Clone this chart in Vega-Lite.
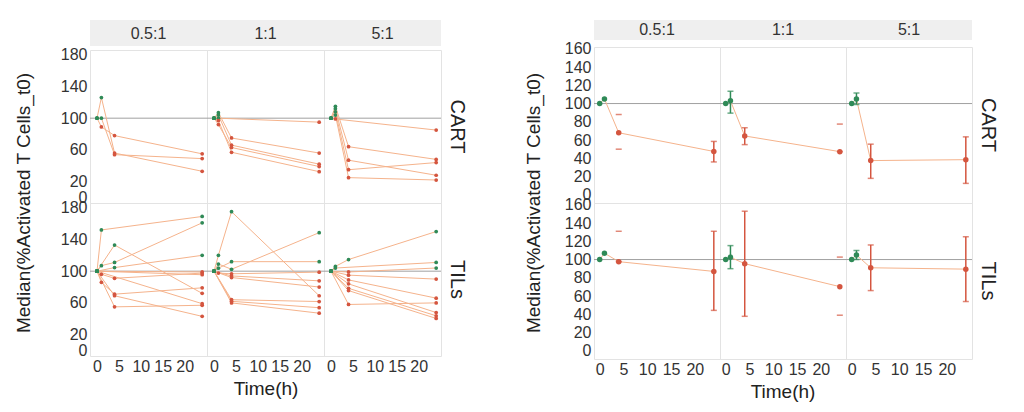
{
  "$schema": "https://vega.github.io/schema/vega-lite/v6.json",
  "padding": {"left": 14, "top": 20, "right": 5, "bottom": 5},
  "background": "white",
  "datasets": {
    "ratios": [{"ratio": "0.5:1"}, {"ratio": "1:1"}, {"ratio": "5:1"}],
    "indiv": [
      {"cell": "CART", "ratio": "0.5:1", "id": "a1", "t": 0, "v": 100, "dir": "up"},
      {"cell": "CART", "ratio": "0.5:1", "id": "a1", "t": 1, "v": 126, "dir": "up"},
      {"cell": "CART", "ratio": "0.5:1", "id": "a1", "t": 4, "v": 56, "dir": "down"},
      {"cell": "CART", "ratio": "0.5:1", "id": "a1", "t": 24, "v": 33, "dir": "down"},
      {"cell": "CART", "ratio": "0.5:1", "id": "a2", "t": 0, "v": 100, "dir": "up"},
      {"cell": "CART", "ratio": "0.5:1", "id": "a2", "t": 1, "v": 100, "dir": "up"},
      {"cell": "CART", "ratio": "0.5:1", "id": "a2", "t": 4, "v": 54, "dir": "down"},
      {"cell": "CART", "ratio": "0.5:1", "id": "a2", "t": 24, "v": 49, "dir": "down"},
      {"cell": "CART", "ratio": "0.5:1", "id": "a3", "t": 0, "v": 100, "dir": "up"},
      {"cell": "CART", "ratio": "0.5:1", "id": "a3", "t": 1, "v": 89, "dir": "down"},
      {"cell": "CART", "ratio": "0.5:1", "id": "a3", "t": 4, "v": 78, "dir": "down"},
      {"cell": "CART", "ratio": "0.5:1", "id": "a3", "t": 24, "v": 55, "dir": "down"},

      {"cell": "CART", "ratio": "1:1", "id": "b1", "t": 0, "v": 100, "dir": "up"},
      {"cell": "CART", "ratio": "1:1", "id": "b1", "t": 1, "v": 100, "dir": "up"},
      {"cell": "CART", "ratio": "1:1", "id": "b1", "t": 24, "v": 95, "dir": "down"},
      {"cell": "CART", "ratio": "1:1", "id": "b2", "t": 0, "v": 100, "dir": "up"},
      {"cell": "CART", "ratio": "1:1", "id": "b2", "t": 1, "v": 107, "dir": "up"},
      {"cell": "CART", "ratio": "1:1", "id": "b2", "t": 4, "v": 75, "dir": "down"},
      {"cell": "CART", "ratio": "1:1", "id": "b2", "t": 24, "v": 56, "dir": "down"},
      {"cell": "CART", "ratio": "1:1", "id": "b3", "t": 0, "v": 100, "dir": "up"},
      {"cell": "CART", "ratio": "1:1", "id": "b3", "t": 1, "v": 104, "dir": "up"},
      {"cell": "CART", "ratio": "1:1", "id": "b3", "t": 4, "v": 66, "dir": "down"},
      {"cell": "CART", "ratio": "1:1", "id": "b3", "t": 24, "v": 42, "dir": "down"},
      {"cell": "CART", "ratio": "1:1", "id": "b4", "t": 0, "v": 100, "dir": "up"},
      {"cell": "CART", "ratio": "1:1", "id": "b4", "t": 1, "v": 92, "dir": "down"},
      {"cell": "CART", "ratio": "1:1", "id": "b4", "t": 4, "v": 63, "dir": "down"},
      {"cell": "CART", "ratio": "1:1", "id": "b4", "t": 24, "v": 39, "dir": "down"},
      {"cell": "CART", "ratio": "1:1", "id": "b5", "t": 0, "v": 100, "dir": "up"},
      {"cell": "CART", "ratio": "1:1", "id": "b5", "t": 1, "v": 97, "dir": "down"},
      {"cell": "CART", "ratio": "1:1", "id": "b5", "t": 4, "v": 57, "dir": "down"},
      {"cell": "CART", "ratio": "1:1", "id": "b5", "t": 24, "v": 32.5, "dir": "down"},

      {"cell": "CART", "ratio": "5:1", "id": "c1", "t": 0, "v": 100, "dir": "up"},
      {"cell": "CART", "ratio": "5:1", "id": "c1", "t": 1, "v": 99, "dir": "down"},
      {"cell": "CART", "ratio": "5:1", "id": "c1", "t": 24, "v": 85, "dir": "down"},
      {"cell": "CART", "ratio": "5:1", "id": "c2", "t": 0, "v": 100, "dir": "up"},
      {"cell": "CART", "ratio": "5:1", "id": "c2", "t": 1, "v": 115, "dir": "up"},
      {"cell": "CART", "ratio": "5:1", "id": "c2", "t": 4, "v": 64, "dir": "down"},
      {"cell": "CART", "ratio": "5:1", "id": "c2", "t": 24, "v": 48, "dir": "down"},
      {"cell": "CART", "ratio": "5:1", "id": "c3", "t": 0, "v": 100, "dir": "up"},
      {"cell": "CART", "ratio": "5:1", "id": "c3", "t": 1, "v": 112, "dir": "up"},
      {"cell": "CART", "ratio": "5:1", "id": "c3", "t": 4, "v": 47, "dir": "down"},
      {"cell": "CART", "ratio": "5:1", "id": "c3", "t": 24, "v": 28, "dir": "down"},
      {"cell": "CART", "ratio": "5:1", "id": "c4", "t": 0, "v": 100, "dir": "up"},
      {"cell": "CART", "ratio": "5:1", "id": "c4", "t": 1, "v": 108, "dir": "up"},
      {"cell": "CART", "ratio": "5:1", "id": "c4", "t": 4, "v": 35, "dir": "down"},
      {"cell": "CART", "ratio": "5:1", "id": "c4", "t": 24, "v": 44, "dir": "down"},
      {"cell": "CART", "ratio": "5:1", "id": "c5", "t": 0, "v": 100, "dir": "up"},
      {"cell": "CART", "ratio": "5:1", "id": "c5", "t": 1, "v": 104, "dir": "up"},
      {"cell": "CART", "ratio": "5:1", "id": "c5", "t": 4, "v": 25, "dir": "down"},
      {"cell": "CART", "ratio": "5:1", "id": "c5", "t": 24, "v": 22, "dir": "down"},

      {"cell": "TILs", "ratio": "0.5:1", "id": "d1", "t": 0, "v": 100, "dir": "up"},
      {"cell": "TILs", "ratio": "0.5:1", "id": "d1", "t": 1, "v": 152, "dir": "up"},
      {"cell": "TILs", "ratio": "0.5:1", "id": "d1", "t": 24, "v": 169, "dir": "up"},
      {"cell": "TILs", "ratio": "0.5:1", "id": "d2", "t": 0, "v": 100, "dir": "up"},
      {"cell": "TILs", "ratio": "0.5:1", "id": "d2", "t": 1, "v": 107, "dir": "up"},
      {"cell": "TILs", "ratio": "0.5:1", "id": "d2", "t": 4, "v": 111, "dir": "up"},
      {"cell": "TILs", "ratio": "0.5:1", "id": "d2", "t": 24, "v": 161, "dir": "up"},
      {"cell": "TILs", "ratio": "0.5:1", "id": "d3", "t": 0, "v": 100, "dir": "up"},
      {"cell": "TILs", "ratio": "0.5:1", "id": "d3", "t": 4, "v": 133, "dir": "up"},
      {"cell": "TILs", "ratio": "0.5:1", "id": "d3", "t": 24, "v": 72, "dir": "down"},
      {"cell": "TILs", "ratio": "0.5:1", "id": "d4", "t": 0, "v": 100, "dir": "up"},
      {"cell": "TILs", "ratio": "0.5:1", "id": "d4", "t": 4, "v": 104.5, "dir": "up"},
      {"cell": "TILs", "ratio": "0.5:1", "id": "d4", "t": 24, "v": 120, "dir": "up"},
      {"cell": "TILs", "ratio": "0.5:1", "id": "d5", "t": 0, "v": 100, "dir": "up"},
      {"cell": "TILs", "ratio": "0.5:1", "id": "d5", "t": 1, "v": 96, "dir": "down"},
      {"cell": "TILs", "ratio": "0.5:1", "id": "d5", "t": 4, "v": 91, "dir": "down"},
      {"cell": "TILs", "ratio": "0.5:1", "id": "d5", "t": 24, "v": 97.6, "dir": "down"},
      {"cell": "TILs", "ratio": "0.5:1", "id": "d6", "t": 0, "v": 100, "dir": "up"},
      {"cell": "TILs", "ratio": "0.5:1", "id": "d6", "t": 1, "v": 86, "dir": "down"},
      {"cell": "TILs", "ratio": "0.5:1", "id": "d6", "t": 4, "v": 71, "dir": "down"},
      {"cell": "TILs", "ratio": "0.5:1", "id": "d6", "t": 24, "v": 79, "dir": "down"},
      {"cell": "TILs", "ratio": "0.5:1", "id": "d7", "t": 0, "v": 100, "dir": "up"},
      {"cell": "TILs", "ratio": "0.5:1", "id": "d7", "t": 4, "v": 69, "dir": "down"},
      {"cell": "TILs", "ratio": "0.5:1", "id": "d7", "t": 24, "v": 43, "dir": "down"},
      {"cell": "TILs", "ratio": "0.5:1", "id": "d8", "t": 0, "v": 100, "dir": "up"},
      {"cell": "TILs", "ratio": "0.5:1", "id": "d8", "t": 4, "v": 55, "dir": "down"},
      {"cell": "TILs", "ratio": "0.5:1", "id": "d8", "t": 24, "v": 57, "dir": "down"},
      {"cell": "TILs", "ratio": "0.5:1", "id": "d9", "t": 0, "v": 100, "dir": "up"},
      {"cell": "TILs", "ratio": "0.5:1", "id": "d9", "t": 24, "v": 99, "dir": "down"},
      {"cell": "TILs", "ratio": "0.5:1", "id": "d10", "t": 0, "v": 100, "dir": "up"},
      {"cell": "TILs", "ratio": "0.5:1", "id": "d10", "t": 24, "v": 95.5, "dir": "down"},
      {"cell": "TILs", "ratio": "0.5:1", "id": "d11", "t": 0, "v": 100, "dir": "up"},
      {"cell": "TILs", "ratio": "0.5:1", "id": "d11", "t": 24, "v": 59, "dir": "down"},

      {"cell": "TILs", "ratio": "1:1", "id": "e1", "t": 0, "v": 100, "dir": "up"},
      {"cell": "TILs", "ratio": "1:1", "id": "e1", "t": 1, "v": 120, "dir": "up"},
      {"cell": "TILs", "ratio": "1:1", "id": "e1", "t": 4, "v": 175, "dir": "up"},
      {"cell": "TILs", "ratio": "1:1", "id": "e1", "t": 24, "v": 69, "dir": "down"},
      {"cell": "TILs", "ratio": "1:1", "id": "e2", "t": 0, "v": 100, "dir": "up"},
      {"cell": "TILs", "ratio": "1:1", "id": "e2", "t": 1, "v": 109, "dir": "up"},
      {"cell": "TILs", "ratio": "1:1", "id": "e2", "t": 4, "v": 102.4, "dir": "up"},
      {"cell": "TILs", "ratio": "1:1", "id": "e2", "t": 24, "v": 148.6, "dir": "up"},
      {"cell": "TILs", "ratio": "1:1", "id": "e3", "t": 0, "v": 100, "dir": "up"},
      {"cell": "TILs", "ratio": "1:1", "id": "e3", "t": 1, "v": 103.7, "dir": "up"},
      {"cell": "TILs", "ratio": "1:1", "id": "e3", "t": 4, "v": 112, "dir": "up"},
      {"cell": "TILs", "ratio": "1:1", "id": "e3", "t": 24, "v": 112, "dir": "up"},
      {"cell": "TILs", "ratio": "1:1", "id": "e4", "t": 0, "v": 100, "dir": "up"},
      {"cell": "TILs", "ratio": "1:1", "id": "e4", "t": 1, "v": 97.6, "dir": "down"},
      {"cell": "TILs", "ratio": "1:1", "id": "e4", "t": 4, "v": 96.7, "dir": "down"},
      {"cell": "TILs", "ratio": "1:1", "id": "e4", "t": 24, "v": 98.8, "dir": "down"},
      {"cell": "TILs", "ratio": "1:1", "id": "e5", "t": 0, "v": 100, "dir": "up"},
      {"cell": "TILs", "ratio": "1:1", "id": "e5", "t": 4, "v": 94, "dir": "down"},
      {"cell": "TILs", "ratio": "1:1", "id": "e5", "t": 24, "v": 87.8, "dir": "down"},
      {"cell": "TILs", "ratio": "1:1", "id": "e6", "t": 0, "v": 100, "dir": "up"},
      {"cell": "TILs", "ratio": "1:1", "id": "e6", "t": 4, "v": 92, "dir": "down"},
      {"cell": "TILs", "ratio": "1:1", "id": "e6", "t": 24, "v": 80, "dir": "down"},
      {"cell": "TILs", "ratio": "1:1", "id": "e7", "t": 0, "v": 100, "dir": "up"},
      {"cell": "TILs", "ratio": "1:1", "id": "e7", "t": 4, "v": 64, "dir": "down"},
      {"cell": "TILs", "ratio": "1:1", "id": "e7", "t": 24, "v": 61.7, "dir": "down"},
      {"cell": "TILs", "ratio": "1:1", "id": "e8", "t": 0, "v": 100, "dir": "up"},
      {"cell": "TILs", "ratio": "1:1", "id": "e8", "t": 4, "v": 62, "dir": "down"},
      {"cell": "TILs", "ratio": "1:1", "id": "e8", "t": 24, "v": 53.9, "dir": "down"},
      {"cell": "TILs", "ratio": "1:1", "id": "e9", "t": 0, "v": 100, "dir": "up"},
      {"cell": "TILs", "ratio": "1:1", "id": "e9", "t": 4, "v": 60, "dir": "down"},
      {"cell": "TILs", "ratio": "1:1", "id": "e9", "t": 24, "v": 47, "dir": "down"},

      {"cell": "TILs", "ratio": "5:1", "id": "f1", "t": 0, "v": 100, "dir": "up"},
      {"cell": "TILs", "ratio": "5:1", "id": "f1", "t": 1, "v": 106, "dir": "up"},
      {"cell": "TILs", "ratio": "5:1", "id": "f1", "t": 4, "v": 114.7, "dir": "up"},
      {"cell": "TILs", "ratio": "5:1", "id": "f1", "t": 24, "v": 150, "dir": "up"},
      {"cell": "TILs", "ratio": "5:1", "id": "f2", "t": 0, "v": 100, "dir": "up"},
      {"cell": "TILs", "ratio": "5:1", "id": "f2", "t": 1, "v": 104, "dir": "up"},
      {"cell": "TILs", "ratio": "5:1", "id": "f2", "t": 24, "v": 111, "dir": "up"},
      {"cell": "TILs", "ratio": "5:1", "id": "f3", "t": 0, "v": 100, "dir": "up"},
      {"cell": "TILs", "ratio": "5:1", "id": "f3", "t": 4, "v": 99, "dir": "down"},
      {"cell": "TILs", "ratio": "5:1", "id": "f3", "t": 24, "v": 104, "dir": "up"},
      {"cell": "TILs", "ratio": "5:1", "id": "f4", "t": 0, "v": 100, "dir": "up"},
      {"cell": "TILs", "ratio": "5:1", "id": "f4", "t": 4, "v": 95, "dir": "down"},
      {"cell": "TILs", "ratio": "5:1", "id": "f4", "t": 24, "v": 90, "dir": "down"},
      {"cell": "TILs", "ratio": "5:1", "id": "f5", "t": 0, "v": 100, "dir": "up"},
      {"cell": "TILs", "ratio": "5:1", "id": "f5", "t": 4, "v": 89, "dir": "down"},
      {"cell": "TILs", "ratio": "5:1", "id": "f5", "t": 24, "v": 66, "dir": "down"},
      {"cell": "TILs", "ratio": "5:1", "id": "f6", "t": 0, "v": 100, "dir": "up"},
      {"cell": "TILs", "ratio": "5:1", "id": "f6", "t": 4, "v": 84, "dir": "down"},
      {"cell": "TILs", "ratio": "5:1", "id": "f6", "t": 24, "v": 47.8, "dir": "down"},
      {"cell": "TILs", "ratio": "5:1", "id": "f7", "t": 0, "v": 100, "dir": "up"},
      {"cell": "TILs", "ratio": "5:1", "id": "f7", "t": 4, "v": 78.4, "dir": "down"},
      {"cell": "TILs", "ratio": "5:1", "id": "f7", "t": 24, "v": 43.7, "dir": "down"},
      {"cell": "TILs", "ratio": "5:1", "id": "f8", "t": 0, "v": 100, "dir": "up"},
      {"cell": "TILs", "ratio": "5:1", "id": "f8", "t": 4, "v": 75.5, "dir": "down"},
      {"cell": "TILs", "ratio": "5:1", "id": "f8", "t": 24, "v": 40.4, "dir": "down"},
      {"cell": "TILs", "ratio": "5:1", "id": "f9", "t": 0, "v": 100, "dir": "up"},
      {"cell": "TILs", "ratio": "5:1", "id": "f9", "t": 4, "v": 58, "dir": "down"},
      {"cell": "TILs", "ratio": "5:1", "id": "f9", "t": 24, "v": 60, "dir": "down"}
    ],
    "summ": [
      {"cell": "CART", "ratio": "0.5:1", "t": 0, "v": 100, "lo": null, "hi": null, "bar": false, "dir": "up"},
      {"cell": "CART", "ratio": "0.5:1", "t": 1, "v": 105, "lo": null, "hi": null, "bar": false, "dir": "up"},
      {"cell": "CART", "ratio": "0.5:1", "t": 4, "v": 68, "lo": 50, "hi": 88, "bar": false, "dir": "down"},
      {"cell": "CART", "ratio": "0.5:1", "t": 24, "v": 47.5, "lo": 36, "hi": 58.5, "bar": true, "dir": "down"},
      {"cell": "CART", "ratio": "1:1", "t": 0, "v": 100, "lo": null, "hi": null, "bar": false, "dir": "up"},
      {"cell": "CART", "ratio": "1:1", "t": 1, "v": 103, "lo": 89.5, "hi": 113.5, "bar": true, "dir": "up"},
      {"cell": "CART", "ratio": "1:1", "t": 4, "v": 64.5, "lo": 55, "hi": 73.5, "bar": true, "dir": "down"},
      {"cell": "CART", "ratio": "1:1", "t": 24, "v": 47.3, "lo": 47.3, "hi": 77.5, "bar": false, "dir": "down"},
      {"cell": "CART", "ratio": "5:1", "t": 0, "v": 100, "lo": null, "hi": null, "bar": false, "dir": "up"},
      {"cell": "CART", "ratio": "5:1", "t": 1, "v": 105, "lo": 99, "hi": 111.5, "bar": true, "dir": "up"},
      {"cell": "CART", "ratio": "5:1", "t": 4, "v": 37.5, "lo": 18, "hi": 55.5, "bar": true, "dir": "down"},
      {"cell": "CART", "ratio": "5:1", "t": 24, "v": 38.5, "lo": 12.5, "hi": 63.5, "bar": true, "dir": "down"},
      {"cell": "TILs", "ratio": "0.5:1", "t": 0, "v": 100, "lo": null, "hi": null, "bar": false, "dir": "up"},
      {"cell": "TILs", "ratio": "0.5:1", "t": 1, "v": 107, "lo": null, "hi": null, "bar": false, "dir": "up"},
      {"cell": "TILs", "ratio": "0.5:1", "t": 4, "v": 97.7, "lo": 97.7, "hi": 131, "bar": false, "dir": "down"},
      {"cell": "TILs", "ratio": "0.5:1", "t": 24, "v": 87, "lo": 44.3, "hi": 131, "bar": true, "dir": "down"},
      {"cell": "TILs", "ratio": "1:1", "t": 0, "v": 100, "lo": null, "hi": null, "bar": false, "dir": "up"},
      {"cell": "TILs", "ratio": "1:1", "t": 1, "v": 102.5, "lo": 90, "hi": 115.3, "bar": true, "dir": "up"},
      {"cell": "TILs", "ratio": "1:1", "t": 4, "v": 95.5, "lo": 37.8, "hi": 153, "bar": true, "dir": "down"},
      {"cell": "TILs", "ratio": "1:1", "t": 24, "v": 70.3, "lo": 39, "hi": 102.7, "bar": false, "dir": "down"},
      {"cell": "TILs", "ratio": "5:1", "t": 0, "v": 100, "lo": null, "hi": null, "bar": false, "dir": "up"},
      {"cell": "TILs", "ratio": "5:1", "t": 1, "v": 105, "lo": 100, "hi": 110, "bar": true, "dir": "up"},
      {"cell": "TILs", "ratio": "5:1", "t": 4, "v": 91, "lo": 66, "hi": 116, "bar": true, "dir": "down"},
      {"cell": "TILs", "ratio": "5:1", "t": 24, "v": 89.5, "lo": 54, "hi": 125, "bar": true, "dir": "down"}
    ]
  },
  "columns": 2,
  "align": "none",
  "spacing": 57,
  "concat": [
    {
      "spacing": 0,
      "vconcat": [
        {
          "data": {"name": "ratios"},
          "width": 351,
          "height": 26,
          "view": {"stroke": null},
          "layer": [
            {"mark": {"type": "rect", "color": "#efefef"},
             "encoding": {"x": {"field": "ratio", "type": "nominal", "axis": null, "scale": {"paddingInner": 0, "paddingOuter": 0}}}},
            {"mark": {"type": "text", "fontSize": 16, "color": "#333333", "font": "Liberation Sans", "dy": 1},
             "encoding": {"x": {"field": "ratio", "type": "nominal", "axis": null}, "text": {"field": "ratio"}}}
          ]
        },
        {
          "data": {"name": "indiv"},
          "bounds": "flush",
          "facet": {
            "row": {"field": "cell", "type": "nominal", "title": "Median(%Activated T Cells_t0)",
                    "header": {"titleOrient": "left", "labelOrient": "right", "labelAngle": 90, "labelFontSize": 20, "titleFontSize": 19, "labelPadding": 6, "titlePadding": 16}},
            "column": {"field": "ratio", "type": "nominal", "title": "Time(h)",
                       "header": {"labels": false, "titleOrient": "bottom", "titleFontSize": 19, "titlePadding": -4}}
          },
          "spacing": {"row": 0, "column": 0},
          "spec": {
            "width": 117,
            "height": 153,
            "layer": [
              {"transform": [{"aggregate": [{"op": "count", "as": "n"}], "groupby": ["cell", "ratio"]}],
               "mark": {"type": "rule", "color": "#a0a0a0", "strokeWidth": 1},
               "encoding": {"y": {"datum": 100, "type": "quantitative",
                       "axis": {"values": [0, 20, 60, 100, 140, 180], "title": null, "labelOverlap": false, "labelSeparation": -40}}}},
              {"mark": {"type": "line", "color": "#f5b38c", "strokeWidth": 1},
               "encoding": {
                 "x": {"field": "t", "type": "quantitative", "scale": {"domain": [-1.6, 25.1], "nice": false, "zero": false},
                       "axis": {"values": [0, 5, 10, 15, 20], "title": null, "labelOverlap": false, "labelSeparation": -40, "labelPadding": 2}},
                 "y": {"field": "v", "type": "quantitative", "scale": {"domain": [-7, 186], "nice": false},
                       "axis": {"values": [0, 20, 60, 100, 140, 180], "title": null, "labelOverlap": false, "labelSeparation": -40}},
                 "detail": {"field": "id"},
                 "order": {"field": "t"}}},
              {"mark": {"type": "circle", "size": 14, "opacity": 1},
               "encoding": {
                 "x": {"field": "t", "type": "quantitative", "axis": {"values": [0, 5, 10, 15, 20], "title": null, "labelOverlap": false, "labelSeparation": -40, "labelPadding": 2}},
                 "y": {"field": "v", "type": "quantitative", "axis": {"values": [0, 20, 60, 100, 140, 180], "title": null, "labelOverlap": false, "labelSeparation": -40}},
                 "color": {"field": "dir", "type": "nominal", "scale": {"domain": ["up", "down"], "range": ["#2f8a57", "#d4553f"]}, "legend": null}}}
            ]
          }
        }
      ]
    },
    {
      "spacing": 0,
      "vconcat": [
        {
          "data": {"name": "ratios"},
          "width": 378,
          "height": 20,
          "view": {"stroke": null},
          "layer": [
            {"mark": {"type": "rect", "color": "#efefef"},
             "encoding": {"x": {"field": "ratio", "type": "nominal", "axis": null, "scale": {"paddingInner": 0, "paddingOuter": 0}}}},
            {"mark": {"type": "text", "fontSize": 16, "color": "#333333", "font": "Liberation Sans"},
             "encoding": {"x": {"field": "ratio", "type": "nominal", "axis": null}, "text": {"field": "ratio"}}}
          ]
        },
        {
          "data": {"name": "summ"},
          "bounds": "flush",
          "facet": {
            "row": {"field": "cell", "type": "nominal", "title": "Median(%Activated T Cells_t0)",
                    "header": {"titleOrient": "left", "labelOrient": "right", "labelAngle": 90, "labelFontSize": 20, "titleFontSize": 19, "labelPadding": 6, "titlePadding": 10}},
            "column": {"field": "ratio", "type": "nominal", "title": "Time(h)",
                       "header": {"labels": false, "titleOrient": "bottom", "titleFontSize": 19, "titlePadding": -4}}
          },
          "spacing": {"row": 0, "column": 0},
          "spec": {
            "width": 126,
            "height": 156,
            "layer": [
              {"transform": [{"aggregate": [{"op": "count", "as": "n"}], "groupby": ["cell", "ratio"]}],
               "mark": {"type": "rule", "color": "#a0a0a0", "strokeWidth": 1},
               "encoding": {"y": {"datum": 100, "type": "quantitative",
                       "axis": {"values": [0, 20, 40, 60, 80, 100, 120, 140, 160], "title": null, "labelOverlap": false, "labelSeparation": -40}}}},
              {"mark": {"type": "line", "color": "#f5b38c", "strokeWidth": 1},
               "encoding": {
                 "x": {"field": "t", "type": "quantitative", "scale": {"domain": [-1.2, 25.3], "nice": false, "zero": false},
                       "axis": {"values": [0, 5, 10, 15, 20], "title": null, "labelOverlap": false, "labelSeparation": -40, "labelPadding": 2}},
                 "y": {"field": "v", "type": "quantitative", "scale": {"domain": [-9, 162], "nice": false},
                       "axis": {"values": [0, 20, 40, 60, 80, 100, 120, 140, 160], "title": null, "labelOverlap": false, "labelSeparation": -40}},
                 "order": {"field": "t"}}},
              {"transform": [{"filter": "datum.bar"}],
               "mark": {"type": "rule", "strokeWidth": 1.5},
               "encoding": {
                 "x": {"field": "t", "type": "quantitative", "axis": {"values": [0, 5, 10, 15, 20], "title": null, "labelOverlap": false, "labelSeparation": -40, "labelPadding": 2}},
                 "y": {"field": "lo", "type": "quantitative", "axis": {"values": [0, 20, 40, 60, 80, 100, 120, 140, 160], "title": null, "labelOverlap": false, "labelSeparation": -40}},
                 "y2": {"field": "hi"},
                 "color": {"field": "dir", "type": "nominal", "legend": null}}},
              {"transform": [{"filter": "isValid(datum.lo)"}],
               "mark": {"type": "tick", "orient": "horizontal", "size": 6, "thickness": 1.5},
               "encoding": {
                 "x": {"field": "t", "type": "quantitative", "axis": {"values": [0, 5, 10, 15, 20], "title": null, "labelOverlap": false, "labelSeparation": -40, "labelPadding": 2}},
                 "y": {"field": "lo", "type": "quantitative", "axis": {"values": [0, 20, 40, 60, 80, 100, 120, 140, 160], "title": null, "labelOverlap": false, "labelSeparation": -40}},
                 "color": {"field": "dir", "type": "nominal", "legend": null}}},
              {"transform": [{"filter": "isValid(datum.hi)"}],
               "mark": {"type": "tick", "orient": "horizontal", "size": 6, "thickness": 1.5},
               "encoding": {
                 "x": {"field": "t", "type": "quantitative", "axis": {"values": [0, 5, 10, 15, 20], "title": null, "labelOverlap": false, "labelSeparation": -40, "labelPadding": 2}},
                 "y": {"field": "hi", "type": "quantitative", "axis": {"values": [0, 20, 40, 60, 80, 100, 120, 140, 160], "title": null, "labelOverlap": false, "labelSeparation": -40}},
                 "color": {"field": "dir", "type": "nominal", "legend": null}}},
              {"mark": {"type": "circle", "size": 30, "opacity": 1},
               "encoding": {
                 "x": {"field": "t", "type": "quantitative", "axis": {"values": [0, 5, 10, 15, 20], "title": null, "labelOverlap": false, "labelSeparation": -40, "labelPadding": 2}},
                 "y": {"field": "v", "type": "quantitative", "axis": {"values": [0, 20, 40, 60, 80, 100, 120, 140, 160], "title": null, "labelOverlap": false, "labelSeparation": -40}},
                 "color": {"field": "dir", "type": "nominal", "scale": {"domain": ["up", "down"], "range": ["#2f8a57", "#d4553f"]}, "legend": null}}}
            ]
          }
        }
      ]
    }
  ],
  "config": {
    "font": "Liberation Sans",
    "view": {"stroke": "#e3e3e3", "strokeWidth": 1},
    "axis": {"domain": false, "ticks": false, "grid": false, "labelFontSize": 16, "labelColor": "#333333", "labelPadding": 3, "labelOverlap": false, "labelSeparation": -40, "labelFlush": false, "labelFont": "Liberation Sans"},
    "axisX": {"labelOverlap": false},
    "axisY": {"labelOverlap": false},
    "axisQuantitative": {"labelOverlap": false},
    "header": {"labelColor": "#222222", "titleColor": "#222222", "titleFontWeight": "normal", "labelFont": "Liberation Sans", "titleFont": "Liberation Sans"},
    "title": {"fontWeight": "normal"}
  }
}
